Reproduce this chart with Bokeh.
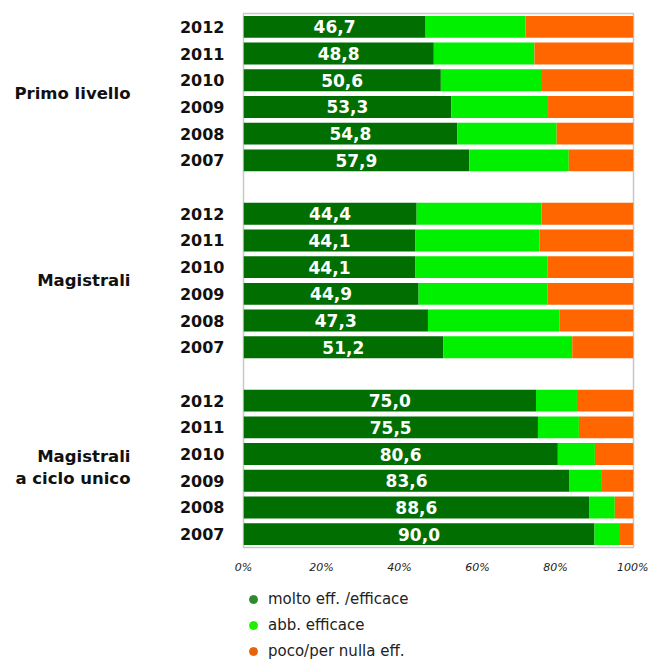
from bokeh.plotting import figure
from bokeh.layouts import column
from bokeh.models import ColumnDataSource, Range1d, LinearAxis, FixedTicker, Legend, LegendItem
from bokeh.embed import file_html
from bokeh.resources import INLINE
from bokeh.core.properties import value

# ---------------- data ----------------
groups = ["Primo livello", "Magistrali", "Magistrali\na ciclo unico"]
years = ["2012", "2011", "2010", "2009", "2008", "2007"]

molto_primo = [46.7, 48.8, 50.6, 53.3, 54.8, 57.9]
abb_primo = [25.6, 25.8, 25.7, 24.8, 25.5, 25.5]
poco_primo = [27.7, 25.4, 23.7, 21.9, 19.7, 16.6]

molto_mag = [44.4, 44.1, 44.1, 44.9, 47.3, 51.2]
abb_mag = [32.0, 31.8, 33.8, 33.0, 33.7, 33.1]
poco_mag = [23.6, 24.1, 22.1, 22.1, 19.0, 15.7]

molto_cu = [75.0, 75.5, 80.6, 83.6, 88.6, 90.0]
abb_cu = [10.5, 10.5, 9.5, 8.3, 6.6, 6.3]
poco_cu = [14.5, 14.0, 9.9, 8.1, 4.8, 3.7]

series_names = ["molto eff. /efficace", "abb. efficace", "poco/per nulla eff."]
x_ticks = [0, 20, 40, 60, 80, 100]
x_tick_labels = ["0%", "20%", "40%", "60%", "80%", "100%"]

# ---------------- layout of rows ----------------
molto_all = [molto_primo, molto_mag, molto_cu]
abb_all = [abb_primo, abb_mag, abb_cu]
poco_all = [poco_primo, poco_mag, poco_cu]

rows_per_group = len(years) + 1
n_rows = len(groups) * rows_per_group - 1

ys, ylab, molto, abb, poco, lbl, lx = [], [], [], [], [], [], []
group_centers = []
for g in range(len(groups)):
    for k, yr in enumerate(years):
        r = g * rows_per_group + k
        y = n_rows - 1 - r
        ys.append(y)
        ylab.append(yr)
        m = molto_all[g][k]
        molto.append(m)
        abb.append(abb_all[g][k])
        poco.append(poco_all[g][k])
        lbl.append(f"{m:.1f}".replace(".", ","))
        lx.append(m / 2)
    group_centers.append(n_rows - 1 - (g * rows_per_group + (len(years) - 1) / 2))

src = ColumnDataSource(dict(y=ys, molto=molto, abb=abb, poco=poco, lbl=lbl, lx=lx))

FONT = "DejaVu Sans"
colors = ["#006E00", "#00F000", "#FF6600"]
legend_colors = ["#2F8A2F", "#22EE00", "#E8640C"]

p = figure(width=648, height=576,
           x_range=Range1d(0, 100), y_range=Range1d(-0.5, n_rows - 0.5),
           output_backend="svg", toolbar_location=None,
           min_border_left=243, min_border_right=15,
           min_border_top=13, min_border_bottom=28)

p.xgrid.visible = False
p.ygrid.visible = False
p.outline_line_color = "#C8C8C8"
p.outline_line_width = 1.5
p.background_fill_color = "white"
p.border_fill_color = "white"

p.hbar_stack(["molto", "abb", "poco"], y="y", height=0.82, source=src,
             fill_color=colors, line_color=None)

p.text(x="lx", y="y", text="lbl", source=src, text_color="white",
       text_font=value(FONT), text_font_style="bold", text_font_size="17px",
       text_align="center", text_baseline="middle")

# x axis
xa = p.xaxis[0]
xa.ticker = FixedTicker(ticks=x_ticks)
xa.major_label_overrides = {t: l for t, l in zip(x_ticks, x_tick_labels)}
xa.axis_line_color = None
xa.major_tick_line_color = None
xa.minor_tick_line_color = None
xa.major_tick_out = 0
xa.major_tick_in = 0
xa.major_label_standoff = 13
xa.major_label_text_font = FONT
xa.major_label_text_font_style = "italic"
xa.major_label_text_font_size = "11px"
xa.major_label_text_color = "#222222"

# y axis (years)
ya = p.yaxis[0]
ya.ticker = FixedTicker(ticks=ys)
ya.major_label_overrides = {y: l for y, l in zip(ys, ylab)}
ya.axis_line_color = None
ya.major_tick_line_color = None
ya.minor_tick_line_color = None
ya.major_tick_out = 0
ya.major_tick_in = 0
ya.major_label_standoff = 19
ya.major_label_text_font = FONT
ya.major_label_text_font_style = "bold"
ya.major_label_text_font_size = "16px"
ya.major_label_text_color = "#111111"

# group axis
ga = LinearAxis(ticker=FixedTicker(ticks=group_centers),
                major_label_overrides={c: gname for c, gname in zip(group_centers, groups)})
ga.axis_line_color = None
ga.major_tick_line_color = None
ga.minor_tick_line_color = None
ga.major_tick_out = 0
ga.major_tick_in = 0
ga.major_label_standoff = 46
ga.major_label_text_font = FONT
ga.major_label_text_font_style = "bold"
ga.major_label_text_font_size = "16.5px"
ga.major_label_text_color = "#111111"
p.add_layout(ga, "left")

# legend figure (legend-only renderers sit outside the visible range)
lf = figure(width=648, height=86, output_backend="svg", toolbar_location=None,
            x_axis_type=None, y_axis_type=None,
            x_range=Range1d(1, 2), y_range=Range1d(1, 2),
            min_border_left=243, min_border_right=15, min_border_top=10, min_border_bottom=0)
lf.outline_line_color = None
lf.xgrid.visible = False
lf.ygrid.visible = False
dummies = []
for c in legend_colors:
    dummies.append(lf.scatter(x=[-5], y=[-5], marker="circle", fill_color=c, line_color=c))
legend = Legend(items=[LegendItem(label=n, renderers=[r]) for n, r in zip(series_names, dummies)],
                location="top_left", orientation="vertical",
                glyph_width=20, glyph_height=26, spacing=0, padding=0, margin=0,
                label_standoff=5, border_line_color=None, background_fill_alpha=0,
                label_text_font=FONT, label_text_font_size="15px", label_text_color="#222222")
lf.add_layout(legend, "center")

layout = column(p, lf, spacing=0)
open("out.html", "w").write(file_html(layout, INLINE))
